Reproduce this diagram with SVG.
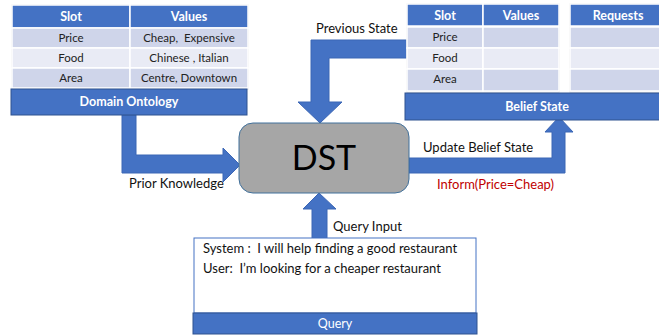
<svg xmlns="http://www.w3.org/2000/svg" width="659" height="336" viewBox="0 0 659 336">
<style>
text{font-family:Lato,"Liberation Sans",sans-serif;white-space:pre;}
.hd{fill:#4472c4;stroke:#fff;stroke-width:1.5}
.r1{fill:#cfd5ea;stroke:#fff;stroke-width:1.5}
.r2{fill:#e9ebf5;stroke:#fff;stroke-width:1.5}
.bar{fill:#4472c4;stroke:#2f528f;stroke-width:1}
.arrow{fill:#4472c4;stroke:#3b66b5;stroke-width:1}
.ht{fill:#fff;font-weight:bold;font-size:12.5px;text-anchor:middle}
.ct{fill:#222;font-size:11.5px;text-anchor:middle}
.lb{fill:#111;font-size:13px}
</style>
<g id="connectors">
<polygon class="arrow" points="122,115 136,115 136,155 223,155 223,148 240,165 223,182 223,173 122,173"/>
<polygon class="arrow" points="410,40 311,40 311,102 298,102 320,123 342,102 329,102 329,58 410,58"/>
<polygon class="arrow" points="409,158 552,158 552,132 545,132 559,117 573,132 565,132 565,173 409,173"/>
<polygon class="arrow" points="312,238 312,209 303,209 319,193 336,209 327,209 327,238"/>
<text class="lb" x="129" y="188">Prior Knowledge</text>
<text class="lb" x="316" y="33">Previous State</text>
<text class="lb" x="423" y="152">Update Belief State</text>
<text x="437" y="189" style="fill:#c00000;font-size:13px">Inform(Price=Cheap)</text>
<text class="lb" x="333" y="231">Query Input</text>
</g>
<g id="domain-ontology">
<rect x="12" y="5" width="236" height="84" fill="none" stroke="#d0d0d0"/>
<rect class="hd" x="12" y="5" width="118" height="23"/>
<rect class="hd" x="130" y="5" width="118" height="23"/>
<rect class="r1" x="12" y="28" width="118" height="20"/>
<rect class="r1" x="130" y="28" width="118" height="20"/>
<rect class="r2" x="12" y="48" width="118" height="20"/>
<rect class="r2" x="130" y="48" width="118" height="20"/>
<rect class="r1" x="12" y="68" width="118" height="20"/>
<rect class="r1" x="130" y="68" width="118" height="20"/>
<text class="ht" x="71" y="21">Slot</text>
<text class="ht" x="189" y="21">Values</text>
<text class="ct" x="71" y="42">Price</text>
<text class="ct" x="189" y="42">Cheap,  Expensive</text>
<text class="ct" x="71" y="62">Food</text>
<text class="ct" x="189" y="62">Chinese , Italian</text>
<text class="ct" x="71" y="82">Area</text>
<text class="ct" x="189" y="82">Centre, Downtown</text>
<rect class="bar" x="11" y="89" width="236" height="26"/>
<text class="ht" x="129" y="106">Domain Ontology</text>
</g>
<g id="belief-state">
<rect x="407" y="4" width="152" height="88" fill="#fff" stroke="#d0d0d0"/>
<rect class="hd" x="407" y="4" width="76" height="22"/>
<rect class="hd" x="483" y="4" width="76" height="22"/>
<rect class="r1" x="407" y="27" width="76" height="21"/>
<rect class="r1" x="483" y="27" width="76" height="21"/>
<rect class="r2" x="407" y="48" width="76" height="21"/>
<rect class="r2" x="483" y="48" width="76" height="21"/>
<rect class="r1" x="407" y="69" width="76" height="22"/>
<rect class="r1" x="483" y="69" width="76" height="22"/>
<rect x="570" y="4" width="95" height="88" fill="#fff" stroke="#d0d0d0"/>
<rect class="hd" x="570" y="4" width="95" height="22"/>
<rect class="r1" x="570" y="27" width="95" height="21"/>
<rect class="r2" x="570" y="48" width="95" height="21"/>
<rect class="r1" x="570" y="69" width="95" height="22"/>
<text class="ht" x="445" y="20">Slot</text>
<text class="ht" x="521" y="20">Values</text>
<text class="ht" x="618" y="20">Requests</text>
<text class="ct" x="445" y="41">Price</text>
<text class="ct" x="445" y="62">Food</text>
<text class="ct" x="445" y="83">Area</text>
<rect class="bar" x="405" y="93" width="260" height="27"/>
<text class="ht" x="537" y="111">Belief State</text>
</g>
<g id="dst">
<rect x="239" y="123" width="170" height="70" rx="14" fill="#a6a6a6" stroke="#41719c" stroke-width="1"/>
<text x="324" y="170" style="font-size:34px;fill:#000;text-anchor:middle">DST</text>
</g>
<g id="query">
<rect x="194" y="238" width="282" height="75" fill="#fff" stroke="#4472c4"/>
<text class="lb" x="203" y="253">System :  I will help finding a good restaurant</text>
<text class="lb" x="203" y="273">User:  I’m looking for a cheaper restaurant</text>
<rect class="bar" x="193" y="313" width="284" height="21"/>
<text x="335" y="328" style="fill:#fff;font-size:12.5px;text-anchor:middle">Query</text>
</g>
</svg>
